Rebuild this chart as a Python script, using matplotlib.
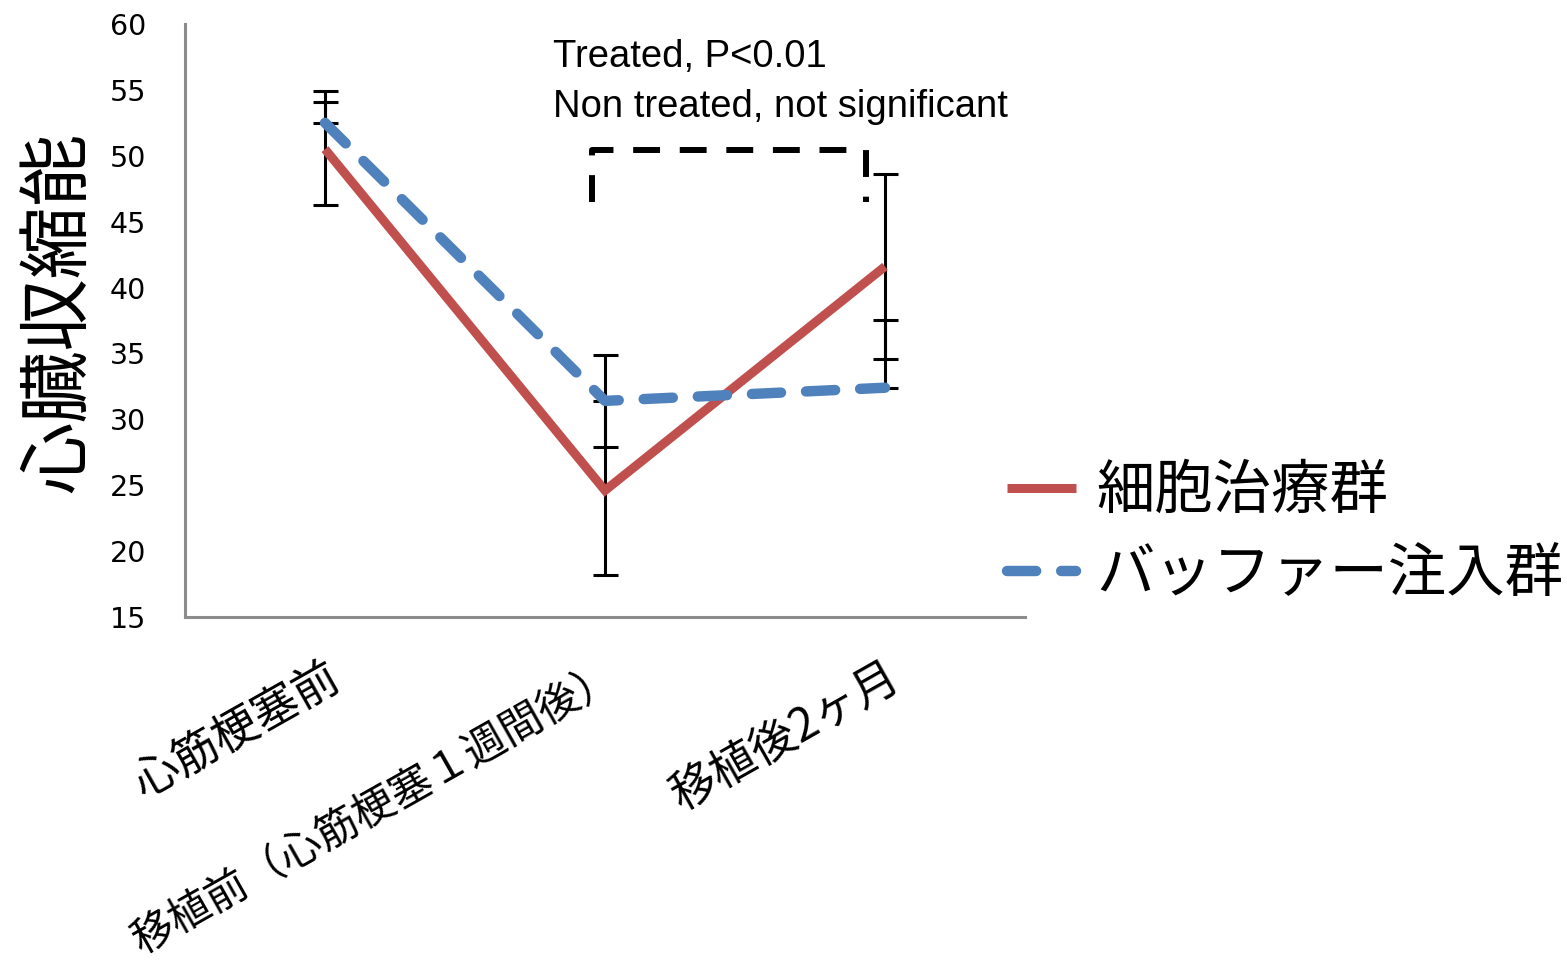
import matplotlib
matplotlib.use("Agg")
import matplotlib.pyplot as plt
from matplotlib.lines import Line2D

# Category labels (time points)
categories = ["心筋梗塞前", "移植前（心筋梗塞１週間後）", "移植後2ヶ月"]

# Cardiac contractility per group
treated_values = [50.5, 24.6, 41.6]
treated_err_minus = [4.2, 6.4, 7.0]
treated_err_plus = [4.4, 6.8, 7.0]

buffer_values = [52.5, 31.4, 32.4]
buffer_err_minus = [0.0, 3.5, 0.0]
buffer_err_plus = [1.6, 3.5, 5.1]

series_labels = ["細胞治療群", "バッファー注入群"]
y_ticks = [15, 20, 25, 30, 35, 40, 45, 50, 55, 60]
annotation_lines = ["Treated, P<0.01", "Non treated, not significant"]

RED = "#C0504D"
BLUE = "#4F81BD"
CJK = ["Noto Sans CJK JP", "DejaVu Sans"]

W, H = 1567, 961
fig = plt.figure(figsize=(W / 100, H / 100), dpi=100)
ax = fig.add_axes([185 / W, 1 - 617 / H, 840 / W, 593 / H])

x = list(range(len(categories)))

# error bars underneath both lines
ax.errorbar(x, treated_values, yerr=[treated_err_minus, treated_err_plus],
            fmt="none", ecolor="black", elinewidth=2.2, capsize=9, capthick=2.2,
            zorder=2)
ax.errorbar(x, buffer_values, yerr=[buffer_err_minus, buffer_err_plus],
            fmt="none", ecolor="black", elinewidth=2.2, capsize=9, capthick=2.2,
            zorder=2)
red_line, = ax.plot(x, treated_values, color=RED, lw=6.5,
                    solid_capstyle="butt", solid_joinstyle="miter", zorder=3)
blue_line, = ax.plot(x, buffer_values, color=BLUE, lw=7.5, dashes=(2.8, 2.4),
                     dash_capstyle="round", zorder=5)

ax.set_xlim(-0.5, 2.5)
ax.set_ylim(15, 60)
ax.set_yticks(y_ticks)
ax.set_yticklabels([str(v) for v in y_ticks], fontsize=20.5, family="DejaVu Sans")
ax.set_xticks(x)
ax.set_xticklabels(categories, fontsize=33, family=CJK, rotation=29.5,
                   ha="right", va="top", rotation_mode="anchor")
# the long middle label is set a little smaller so it stays inside the figure
ax.get_xticklabels()[1].set_fontsize(30.5)
ax.tick_params(axis="y", length=0, pad=28)
ax.tick_params(axis="x", length=0, pad=26)

for side in ("top", "right"):
    ax.spines[side].set_visible(False)
for side in ("left", "bottom"):
    ax.spines[side].set_color("#8c8c8c")
    ax.spines[side].set_linewidth(2.2)

ax.set_ylabel("心臓収縮能", fontsize=52, family=CJK)
ax.yaxis.set_label_coords(-0.107, 0.513)

# significance bracket between the 2nd and 3rd time points
bx0, bx1 = 1 - 0.046, 2 - 0.068
by_low, by_top = 46.5, 50.45
ax.add_line(Line2D([bx0, bx0, bx1, bx1], [by_low, by_top, by_top, by_low],
                   color="black", lw=4.3, dashes=(4.5, 3.3),
                   dash_capstyle="butt", zorder=6, clip_on=False))

fig.text(553 / W, 1 - 67 / H, annotation_lines[0], fontsize=27.5,
         family="Liberation Sans", va="baseline", ha="left")
fig.text(553 / W, 1 - 117 / H, annotation_lines[1], fontsize=27.5,
         family="Liberation Sans", va="baseline", ha="left")

leg = ax.legend([red_line, blue_line], series_labels, loc="center left",
                bbox_to_anchor=(1007 / W, 1 - 533 / H),
                bbox_transform=fig.transFigure, frameon=False,
                prop={"family": CJK, "size": 42}, handlelength=1.18,
                handletextpad=0.35, labelspacing=0.38, borderpad=0,
                borderaxespad=0)

fig.savefig("out.png", dpi=100)
